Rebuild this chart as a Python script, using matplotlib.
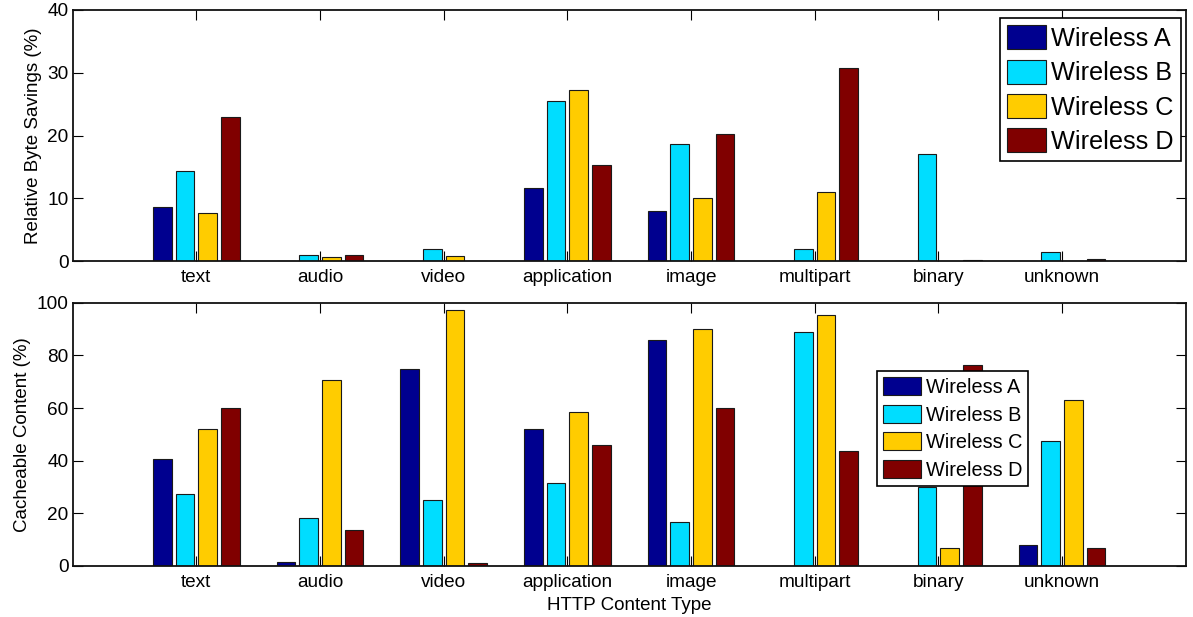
import numpy as np
import matplotlib
matplotlib.use("Agg")
import matplotlib.pyplot as plt

categories = ["text", "audio", "video", "application", "image", "multipart", "binary", "unknown"]
series_names = ["Wireless A", "Wireless B", "Wireless C", "Wireless D"]
colors = ["#00008F", "#00DDFF", "#FFCC00", "#800000"]

savings_a = [8.6, 0.0, 0.0, 11.7, 7.9, 0.0, 0.0, 0.0]
savings_b = [14.3, 0.9, 1.85, 25.5, 18.7, 1.95, 17.1, 1.5]
savings_c = [7.65, 0.7, 0.85, 27.2, 10.1, 10.95, 0.0, 0.0]
savings_d = [22.9, 1.0, 0.05, 15.3, 20.3, 30.7, 0.1, 0.35]

cache_a = [40.8, 1.6, 74.9, 52.1, 85.9, 0.0, 0.0, 7.8]
cache_b = [27.3, 18.2, 25.0, 31.6, 16.7, 88.85, 30.1, 47.5]
cache_c = [52.1, 70.8, 97.2, 58.4, 90.2, 95.3, 6.8, 63.2]
cache_d = [60.0, 13.65, 1.3, 45.9, 60.0, 43.7, 76.2, 6.7]

plt.rcParams["font.family"] = ["Liberation Sans", "DejaVu Sans"]

fig = plt.figure(figsize=(11.93, 6.17), dpi=100)
W, H = 1193.0, 617.0
ax1 = fig.add_axes([72.7 / W, 1 - 261 / H, (1185.7 - 72.7) / W, (261 - 10) / H])
ax2 = fig.add_axes([72.7 / W, 1 - 566 / H, (1185.7 - 72.7) / W, (566 - 302.7) / H])

x = np.arange(1, len(categories) + 1)
offsets = [-0.275, -0.092, 0.092, 0.275]
width = 0.15


def draw(ax, data, ylim, yticks, ylabel):
    handles = []
    for vals, off, col, name in zip(data, offsets, colors, series_names):
        h = ax.bar(x + off, vals, width, color=col, edgecolor="#1a1a1a",
                   linewidth=0.8, label=name, zorder=2)
        handles.append(h)
    ax.set_xlim(0, 9)
    ax.set_ylim(*ylim)
    ax.set_xticks(x)
    ax.set_xticklabels(categories)
    ax.set_yticks(yticks)
    ax.set_ylabel(ylabel, fontsize=13.5)
    ax.tick_params(axis="both", direction="in", length=7.5, width=0.8,
                   top=True, right=True, labelsize=13.7, colors="#000000")
    ax.tick_params(axis="x", pad=6)
    ax.tick_params(axis="y", pad=3)
    for sp in ax.spines.values():
        sp.set_linewidth(1.3)
        sp.set_color("#111111")
    return handles


draw(ax1, [savings_a, savings_b, savings_c, savings_d], (0, 40), [0, 10, 20, 30, 40],
     "Relative Byte Savings (%)")
draw(ax2, [cache_a, cache_b, cache_c, cache_d], (0, 100), [0, 20, 40, 60, 80, 100],
     "Cacheable Content (%)")
ax2.set_xlabel("HTTP Content Type", fontsize=13.5, labelpad=4)

leg1 = ax1.legend(loc="upper right", bbox_to_anchor=(1181 / W, 1 - 18.3 / H),
                  bbox_transform=fig.transFigure, fontsize=18.2, frameon=True,
                  fancybox=False, framealpha=1, handlelength=1.55, handleheight=1.09,
                  handletextpad=0.2, labelspacing=0.34, borderpad=0.28,
                  borderaxespad=0)
leg1.get_frame().set_edgecolor("#000000")
leg1.get_frame().set_linewidth(1.2)

leg2 = ax2.legend(loc="upper left", bbox_to_anchor=(876.7 / W, 1 - 371 / H),
                  bbox_transform=fig.transFigure, fontsize=14.3, frameon=True,
                  fancybox=False, framealpha=1, handlelength=1.9, handleheight=1.04,
                  handletextpad=0.25, labelspacing=0.38, borderpad=0.31,
                  borderaxespad=0)
leg2.get_frame().set_edgecolor("#000000")
leg2.get_frame().set_linewidth(1.2)

fig.savefig("out.png", dpi=100)
